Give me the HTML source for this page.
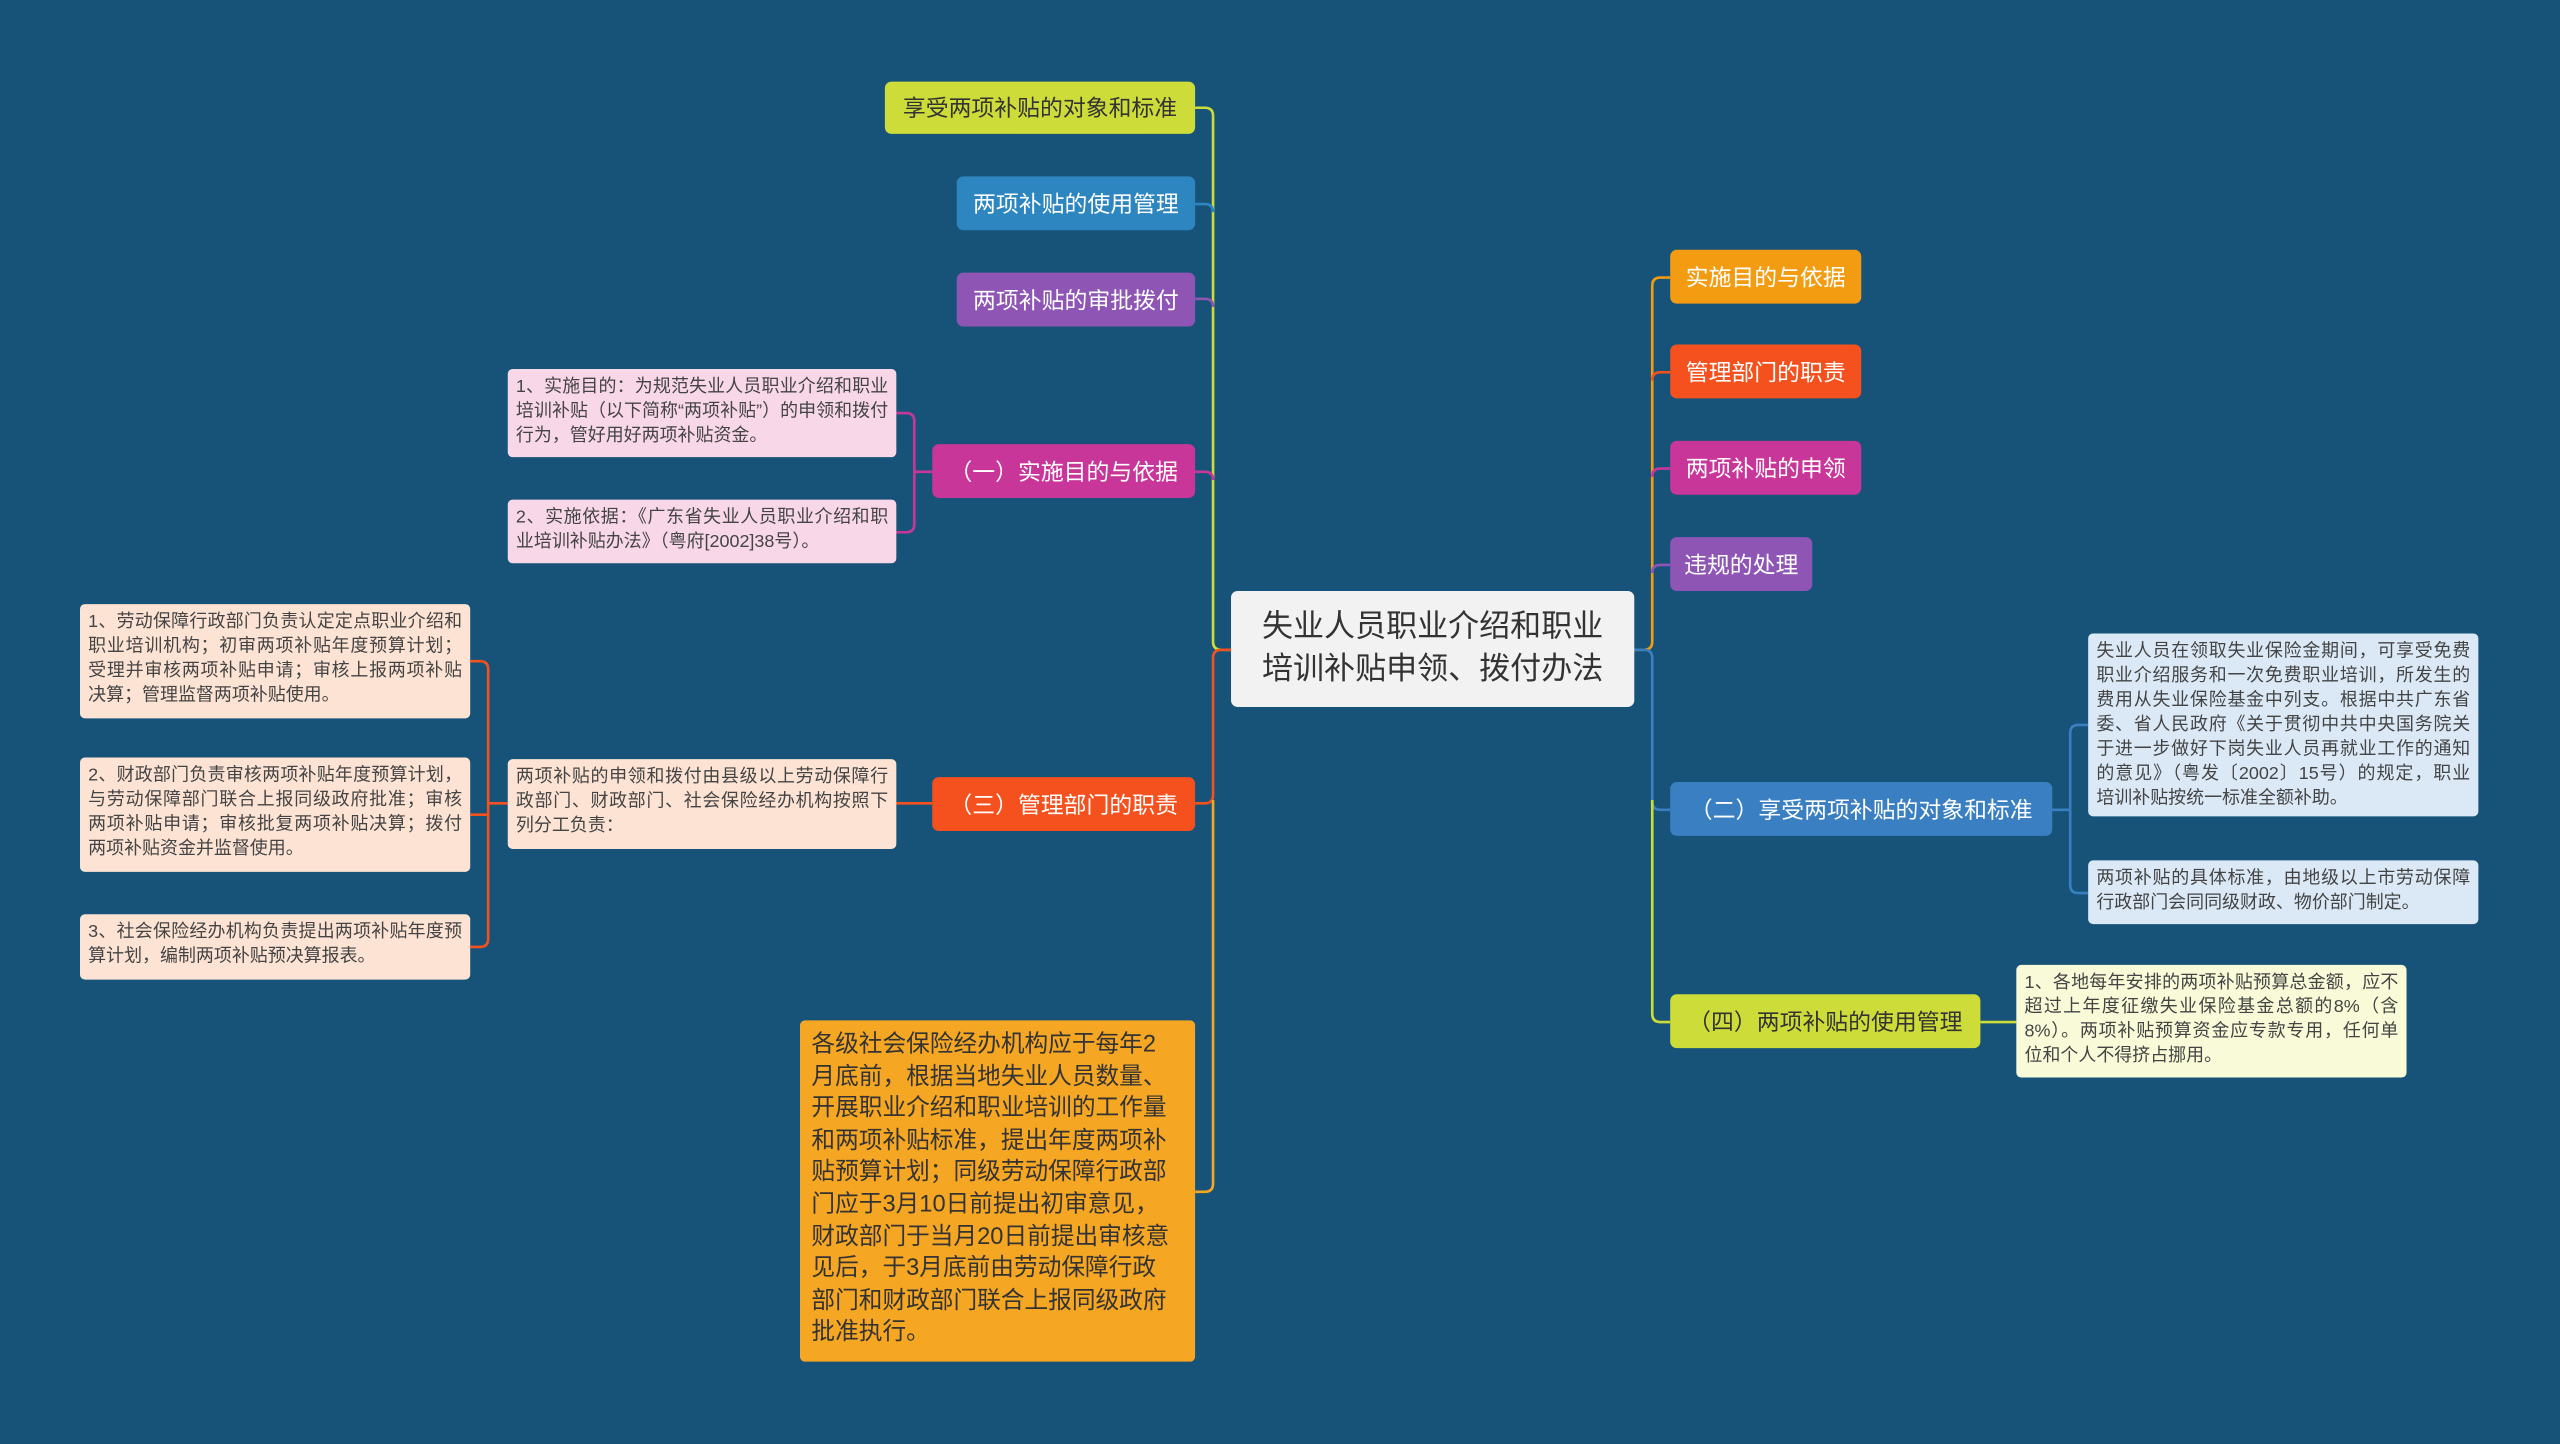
<!DOCTYPE html>
<html><head><meta charset="utf-8"><style>
html,body{margin:0;padding:0;background:#175378;}
#w{width:1568px;height:884px;position:relative;transform:scale(1.632653);transform-origin:0 0;overflow:hidden;background:#175378;font-family:"Liberation Sans","Noto Sans CJK SC",sans-serif;}
.n{position:absolute;box-sizing:border-box;border-radius:4px;display:flex;align-items:center;justify-content:center;font-size:14px;color:#fff;white-space:nowrap;}
.l{position:absolute;box-sizing:border-box;border-radius:3px;font-size:11px;line-height:15px;color:#444;padding:4px 5px;text-align:justify;}
svg{position:absolute;left:0;top:0;}
</style></head><body><div id="w">
<svg width="1568" height="884" fill="none" stroke-width="1.6">
<g>
<path d="M754 398H748Q743 398 743 393V71Q743 66 738 66H732" stroke="#cddc39"/>
<path d="M743 130Q743 125 738 125H732" stroke="#2e86c1"/>
<path d="M743 188Q743 183 738 183H732" stroke="#8e55b5"/>
<path d="M743 294Q743 289 738 289H732" stroke="#c8369a"/>
<path d="M754 398H748Q743 398 743 403V487Q743 492 738 492H732" stroke="#f4511e"/>
<path d="M743 490V725Q743 730 738 730H732" stroke="#f5a623"/>
<path d="M571 289H560V258Q560 253 555 253H549M560 289V321Q560 326 555 326H549" stroke="#c8369a"/>
<path d="M571 492H549" stroke="#f4511e"/>
<path d="M311 492H299V410Q299 405 294 405H288M299 492V499H288M299 492V575Q299 580 294 580H288" stroke="#f4511e"/>
<path d="M1001 398H1007Q1012 398 1012 393V175Q1012 170 1017 170H1023" stroke="#f39c12"/>
<path d="M1012 233Q1012 228 1017 228H1023" stroke="#f4511e"/>
<path d="M1012 292Q1012 287 1017 287H1023" stroke="#c8369a"/>
<path d="M1012 351Q1012 346 1017 346H1023" stroke="#8e55b5"/>
<path d="M1001 398H1007Q1012 398 1012 403V491Q1012 496 1017 496H1023" stroke="#3a7fc1"/>
<path d="M1012 490V621Q1012 626 1017 626H1023" stroke="#cddc39"/>
<path d="M1257 496H1268V449Q1268 444 1273 444H1279M1268 496V542Q1268 547 1273 547H1279" stroke="#3a7fc1"/>
<path d="M1213 626H1235" stroke="#cddc39"/>
</g></svg>
<div class="n" style="left:754px;top:362px;width:247px;height:71px;background:#f2f2f2;color:#333;font-size:19px;line-height:26px;white-space:normal;text-align:center;padding:0 12px;">失业人员职业介绍和职业培训补贴申领、拨付办法</div>
<div class="n" style="left:542px;top:50px;width:190px;height:32px;background:#cddc39;color:#333;">享受两项补贴的对象和标准</div>
<div class="n" style="left:586px;top:108px;width:146px;height:33px;background:#2e86c1;">两项补贴的使用管理</div>
<div class="n" style="left:586px;top:167px;width:146px;height:33px;background:#8e55b5;">两项补贴的审批拨付</div>
<div class="n" style="left:571px;top:272px;width:161px;height:33px;background:#c8369a;">（一）实施目的与依据</div>
<div class="n" style="left:571px;top:476px;width:161px;height:33px;background:#f4511e;">（三）管理部门的职责</div>
<div class="l" style="left:490px;top:625px;width:242px;height:209px;background:#f5a623;color:#333;font-size:14.5px;line-height:19.6px;padding:6px 12px 6px 7px;text-align:left;">各级社会保险经办机构应于每年2月底前，根据当地失业人员数量、开展职业介绍和职业培训的工作量和两项补贴标准，提出年度两项补贴预算计划；同级劳动保障行政部门应于3月10日前提出初审意见，财政部门于当月20日前提出审核意见后，于3月底前由劳动保障行政部门和财政部门联合上报同级政府批准执行。</div>
<div class="l" style="left:311px;top:226px;width:238px;height:54px;background:#f8d7e8;">1、实施目的：为规范失业人员职业介绍和职业培训补贴（以下简称“两项补贴”）的申领和拨付行为，管好用好两项补贴资金。</div>
<div class="l" style="left:311px;top:306px;width:238px;height:39px;background:#f8d7e8;">2、实施依据：《广东省失业人员职业介绍和职业培训补贴办法》（粤府[2002]38号）。</div>
<div class="l" style="left:311px;top:465px;width:238px;height:55px;background:#fde3d4;">两项补贴的申领和拨付由县级以上劳动保障行政部门、财政部门、社会保险经办机构按照下列分工负责：</div>
<div class="l" style="left:49px;top:370px;width:239px;height:70px;background:#fde3d4;">1、劳动保障行政部门负责认定定点职业介绍和职业培训机构；初审两项补贴年度预算计划；受理并审核两项补贴申请；审核上报两项补贴决算；管理监督两项补贴使用。</div>
<div class="l" style="left:49px;top:464px;width:239px;height:70px;background:#fde3d4;">2、财政部门负责审核两项补贴年度预算计划，与劳动保障部门联合上报同级政府批准；审核两项补贴申请；审核批复两项补贴决算；拨付两项补贴资金并监督使用。</div>
<div class="l" style="left:49px;top:560px;width:239px;height:40px;background:#fde3d4;">3、社会保险经办机构负责提出两项补贴年度预算计划，编制两项补贴预决算报表。</div>
<div class="n" style="left:1023px;top:153px;width:117px;height:33px;background:#f39c12;">实施目的与依据</div>
<div class="n" style="left:1023px;top:211px;width:117px;height:33px;background:#f4511e;">管理部门的职责</div>
<div class="n" style="left:1023px;top:270px;width:117px;height:33px;background:#c8369a;">两项补贴的申领</div>
<div class="n" style="left:1023px;top:329px;width:87px;height:33px;background:#8e55b5;">违规的处理</div>
<div class="n" style="left:1023px;top:479px;width:234px;height:33px;background:#3a7fc1;">（二）享受两项补贴的对象和标准</div>
<div class="n" style="left:1023px;top:609px;width:190px;height:33px;background:#cddc39;color:#333;">（四）两项补贴的使用管理</div>
<div class="l" style="left:1279px;top:388px;width:239px;height:112px;background:#dbe9f7;">失业人员在领取失业保险金期间，可享受免费职业介绍服务和一次免费职业培训，所发生的费用从失业保险基金中列支。根据中共广东省委、省人民政府《关于贯彻中共中央国务院关于进一步做好下岗失业人员再就业工作的通知的意见》（粤发〔2002〕15号）的规定，职业培训补贴按统一标准全额补助。</div>
<div class="l" style="left:1279px;top:527px;width:239px;height:39px;background:#dbe9f7;">两项补贴的具体标准，由地级以上市劳动保障行政部门会同同级财政、物价部门制定。</div>
<div class="l" style="left:1235px;top:591px;width:239px;height:69px;background:#f9fbd8;">1、各地每年安排的两项补贴预算总金额，应不超过上年度征缴失业保险基金总额的8%（含8%）。两项补贴预算资金应专款专用，任何单位和个人不得挤占挪用。</div>
</div></body></html>
